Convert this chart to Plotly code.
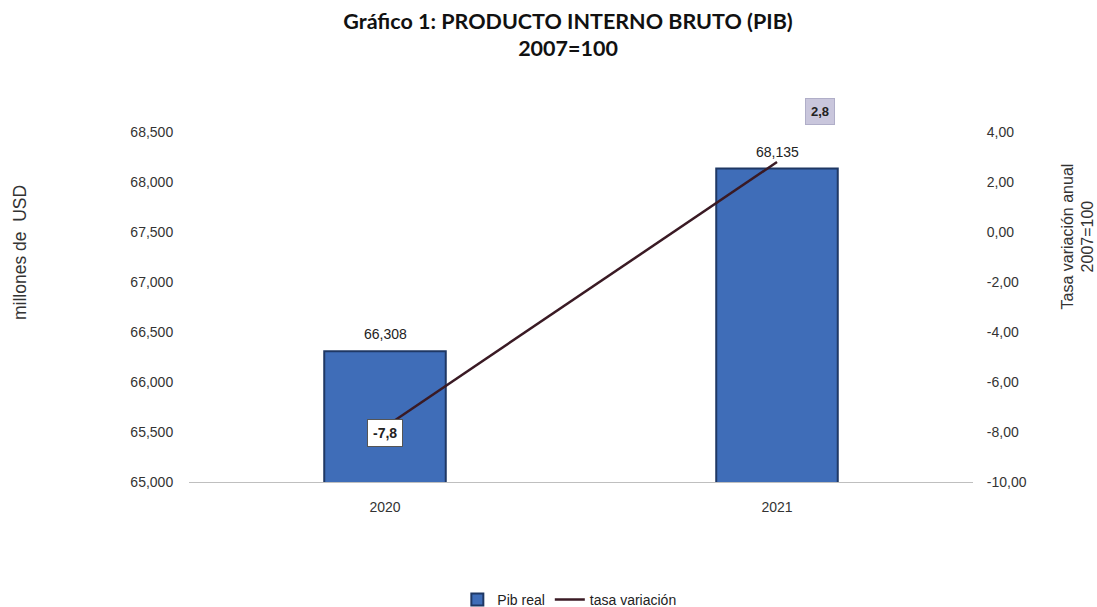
import plotly.graph_objects as go

years = ["2020", "2021"]
pib_real = [66308, 68135]
tasa_variacion = [-7.8, 2.8]
left_ticks = [65000, 65500, 66000, 66500, 67000, 67500, 68000, 68500]
right_ticks = [-10, -8, -6, -4, -2, 0, 2, 4]

fmt_dec = lambda v, d: (f"{v:.{d}f}").replace(".", ",")
FONT = "Liberation Sans"

fig = go.Figure()
fig.add_trace(go.Bar(
    x=years, y=pib_real, name="Pib real", width=0.31,
    marker=dict(color="#3f6db8", line=dict(color="#1f3864", width=2)),
))
fig.add_trace(go.Scatter(
    x=years, y=tasa_variacion, name="tasa variación", yaxis="y2",
    mode="lines", line=dict(color="#3a1a24", width=2.5),
))

# bar value labels
for i, v in enumerate(pib_real):
    fig.add_annotation(x=i, y=v, xref="x", yref="y", text=f"{v:,}", showarrow=False, yshift=17,
                       font=dict(family=FONT, size=14, color="#222"))

# rate labels (category index positions)
fig.add_annotation(x=0, y=tasa_variacion[0], xref="x", yref="y2", text=f"<b>{fmt_dec(tasa_variacion[0],1)}</b>",
                   showarrow=False, yshift=-6, bgcolor="white", bordercolor="#555", borderwidth=1, borderpad=5,
                   font=dict(family=FONT, size=14, color="#222"))
fig.add_annotation(x=1, y=tasa_variacion[1], xref="x", yref="y2", text=f"<b>{fmt_dec(tasa_variacion[1],1)}</b>",
                   showarrow=False, xshift=43, yshift=51, bgcolor="#c9c6dc", bordercolor="#b0aec8", borderwidth=1, borderpad=5,
                   font=dict(family=FONT, size=13, color="#222"))

# axis titles
fig.add_annotation(x=-0.2156, y=0.657, xref="paper", yref="paper", xanchor="center", yanchor="middle",
                   text="millones de  USD", textangle=-90,
                   showarrow=False, font=dict(family=FONT, size=17.5, color="#333"))
fig.add_annotation(x=1.1333, y=0.70, xref="paper", yref="paper", xanchor="center", yanchor="middle",
                   text="Tasa variación anual<br>2007=100",
                   textangle=-90, showarrow=False, font=dict(family=FONT, size=16, color="#333"))

fig.update_layout(
    width=1097, height=607,
    paper_bgcolor="white", plot_bgcolor="white",
    margin=dict(l=189, r=124, t=132, b=125, autoexpand=False),
    title=dict(text="<b>Gráfico 1: PRODUCTO INTERNO BRUTO (PIB)<br>2007=100</b>", x=0.5178, xanchor="center",
               y=0.953, yanchor="middle", font=dict(family="Lato", size=21.5, color="#111")),
    bargap=0.69,
    showlegend=True,
    legend=dict(orientation="h", x=0.519, xanchor="center", xref="container", yref="container", y=0.0115, yanchor="middle",
                font=dict(family=FONT, size=14, color="#222")),
    xaxis=dict(type="category", range=[-0.5, 1.5], showline=True, linecolor="#bfbfbf", linewidth=1,
               ticks="outside", ticklen=12, tickcolor="white",
               tickfont=dict(family=FONT, size=14, color="#333")),
    yaxis=dict(range=[65000, 68500], tickvals=left_ticks, ticktext=[f"{v:,}" for v in left_ticks],
               showgrid=False, zeroline=False, ticks="outside", ticklen=12, tickcolor="white",
               tickfont=dict(family=FONT, size=14, color="#333")),
    yaxis2=dict(range=[-10, 4], overlaying="y", side="right", tickvals=right_ticks,
                ticktext=[fmt_dec(v, 2) for v in right_ticks], showgrid=False, zeroline=False,
                ticks="outside", ticklen=10, tickcolor="white",
                tickfont=dict(family=FONT, size=14, color="#333")),
)

fig.write_html("out.html", config={"displayModeBar": False},
               post_script="document.body.style.margin='0';document.body.style.overflow='hidden';")
